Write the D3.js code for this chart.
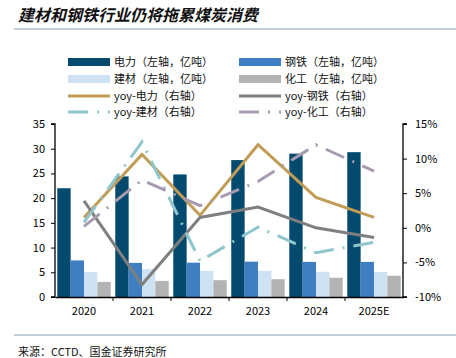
<!DOCTYPE html>
<html><head><meta charset="utf-8">
<script src="https://cdn.jsdelivr.net/npm/d3@7"></script>
<style>
body{margin:0;background:#fff;}
svg{display:block;}
text{font-family:"Noto Sans CJK SC","Noto Sans",sans-serif;}
</style></head>
<body><svg id="c" width="456" height="358"></svg>
<script>
const categories = ["2020","2021","2022","2023","2024","2025E"];
const power = [22.0, 24.4, 24.8, 27.7, 29.0, 29.3];
const steel = [7.4, 6.9, 6.95, 7.15, 7.1, 7.1];
const building = [5.05, 5.65, 5.3, 5.3, 5.1, 5.05];
const chemical = [3.05, 3.25, 3.4, 3.6, 3.9, 4.3];
const yoyPower = [1.5, 10.6, 1.8, 12.0, 4.4, 1.5];
const yoySteel = [3.9, -8.2, 1.5, 3.0, 0.0, -1.4];
const yoyBuilding = [0.8, 12.4, -4.8, 0.1, -3.6, -2.1];
const yoyChemical = [0.2, 6.9, 3.2, 6.7, 12.0, 8.2];
const leftTicks = [0,5,10,15,20,25,30,35];
const rightTicks = [-10,-5,0,5,10,15];

const barSeries = [
  {name:"电力（左轴，亿吨）", values: power, color:"#034a6e"},
  {name:"钢铁（左轴，亿吨）", values: steel, color:"#3f7fc1"},
  {name:"建材（左轴，亿吨）", values: building, color:"#cfe2f3"},
  {name:"化工（左轴，亿吨）", values: chemical, color:"#b3b3b3"}
];
const lineSeries = [
  {name:"yoy-电力（右轴）", values: yoyPower, color:"#c19c55", dash:null},
  {name:"yoy-钢铁（右轴）", values: yoySteel, color:"#7f7f7f", dash:null},
  {name:"yoy-建材（右轴）", values: yoyBuilding, color:"#8fc5cc", dash:"20,9,2,9"},
  {name:"yoy-化工（右轴）", values: yoyChemical, color:"#a89bb1", dash:"20,9,2,9"}
];

const svg = d3.select("#c");
const L = 55, R = 403, T = 124, B = 297;

// title
svg.append("text").attr("x",18).attr("y",21)
  .attr("font-size",16).attr("font-weight","bold").attr("font-style","italic")
  .attr("fill","#111").text("建材和钢铁行业仍将拖累煤炭消费");
svg.append("line").attr("x1",14).attr("x2",456).attr("y1",29).attr("y2",29)
  .attr("stroke","#aebfcd").attr("stroke-width",1.5);

const x = d3.scaleBand().domain(categories).range([L,R]).paddingInner(0).paddingOuter(0);
const xs = d3.scaleBand().domain(d3.range(barSeries.length)).range([0,x.bandwidth()]).paddingOuter(0.17).paddingInner(0);
const yL = d3.scaleLinear().domain([0,35]).range([B,T]);
const yR = d3.scaleLinear().domain([-10,15]).range([B,T]);

// bars
barSeries.forEach((s,i)=>{
  svg.append("g").selectAll("rect").data(s.values).join("rect")
    .attr("x",(d,j)=>x(categories[j])+xs(i))
    .attr("width",xs.bandwidth())
    .attr("y",d=>yL(d))
    .attr("height",d=>B-yL(d))
    .attr("fill",s.color);
});

// lines
const line = d3.line().x((d,j)=>x(categories[j])+x.bandwidth()/2).y(d=>yR(d));
lineSeries.forEach(s=>{
  svg.append("path").datum(s.values).attr("d",line)
    .attr("fill","none").attr("stroke",s.color).attr("stroke-width",3)
    .attr("stroke-linejoin","miter")
    .attr("stroke-dasharray",s.dash);
});

// axes
const axL = svg.append("g").attr("transform",`translate(${L},0)`)
  .call(d3.axisLeft(yL).tickValues(leftTicks).tickSize(4).tickPadding(6));
const axR = svg.append("g").attr("transform",`translate(${R},0)`)
  .call(d3.axisRight(yR).tickValues(rightTicks).tickSize(4).tickPadding(8).tickFormat(d=>d+"%"));
const axB = svg.append("g").attr("transform",`translate(0,${B})`)
  .call(d3.axisBottom(x).tickSize(0).tickPadding(10));
// boundary ticks on x axis
svg.append("g").selectAll("line").data(categories.slice(1)).join("line")
  .attr("x1",d=>x(d)).attr("x2",d=>x(d)).attr("y1",B).attr("y2",B+4)
  .attr("stroke","#000").attr("stroke-width",1);
[axL,axR,axB].forEach(a=>{
  a.select(".domain").attr("stroke","#000").attr("stroke-width",1.3);
  a.selectAll(".tick line").attr("stroke","#000");
  a.selectAll("text").attr("font-family","'Open Sans','Noto Sans',sans-serif").attr("font-size",11).attr("fill","#000");
});
axL.select(".domain").attr("d",`M-4,${T}H0V${B}H-4`);
axR.select(".domain").attr("d",`M4,${T}H0V${B}H4`);

// legend
const legendItems = [
  {s:barSeries[0], type:"bar", col:0, row:0},
  {s:barSeries[1], type:"bar", col:1, row:0},
  {s:barSeries[2], type:"bar", col:0, row:1},
  {s:barSeries[3], type:"bar", col:1, row:1},
  {s:lineSeries[0], type:"line", col:0, row:2},
  {s:lineSeries[1], type:"line", col:1, row:2},
  {s:lineSeries[2], type:"line", col:0, row:3},
  {s:lineSeries[3], type:"line", col:1, row:3}
];
const colX = [68,239], rowY = [62,79,96,112];
const lg = svg.append("g");
legendItems.forEach(it=>{
  const gx = colX[it.col], gy = rowY[it.row];
  if(it.type==="bar"){
    lg.append("rect").attr("x",gx).attr("y",gy-4).attr("width",42).attr("height",8).attr("fill",it.s.color);
  } else {
    lg.append("line").attr("x1",gx).attr("x2",gx+42).attr("y1",gy).attr("y2",gy)
      .attr("stroke",it.s.color).attr("stroke-width",3).attr("stroke-dasharray",it.s.dash);
  }
  lg.append("text").attr("x",gx+46).attr("y",gy+4).attr("font-size",11).attr("fill","#111").text(it.s.name);
});

// bottom rule and source
svg.append("line").attr("x1",14).attr("x2",456).attr("y1",335).attr("y2",335)
  .attr("stroke","#aebfcd").attr("stroke-width",1.5);
svg.append("text").attr("x",18).attr("y",356).attr("font-size",11).attr("fill","#111").text("来源：CCTD、国金证券研究所");
</script></body></html>
